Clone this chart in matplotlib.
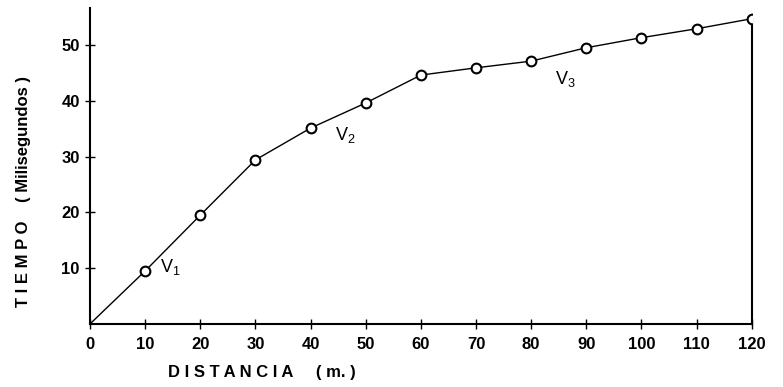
import matplotlib.pyplot as plt

# distance (m) and travel time (ms)
distancia = [0, 10, 20, 30, 40, 50, 60, 70, 80, 90, 100, 110, 120]
tiempo = [0, 9.5, 19.5, 29.4, 35.1, 39.6, 44.6, 45.9, 47.1, 49.5, 51.3, 52.9, 54.7]

x_ticks = [0, 10, 20, 30, 40, 50, 60, 70, 80, 90, 100, 110, 120]
y_ticks = [10, 20, 30, 40, 50]

# velocity labels and where they sit
etiquetas = ["V$_1$", "V$_2$", "V$_3$"]
etiq_x = [14.6, 46.3, 86.2]
etiq_y = [10.2, 33.8, 43.9]

plt.rcParams['font.family'] = ['Liberation Sans', 'DejaVu Sans']
plt.rcParams['mathtext.default'] = 'regular'

fig = plt.figure(figsize=(7.83, 3.87), dpi=100)
ax = fig.add_axes([0.115, 0.163, 0.845, 0.816])

ax.plot(distancia, tiempo, color="black", lw=1.0, zorder=2)
ax.plot(distancia[1:], tiempo[1:], "o", ms=7, mfc="white", mec="black",
        mew=1.5, zorder=3)

for t, tx, ty in zip(etiquetas, etiq_x, etiq_y):
    ax.text(tx, ty, t, fontsize=13, ha="center", va="center")

ax.set_xlim(0, 120)
ax.set_ylim(0, 56.6)
ax.set_xticks(x_ticks)
ax.set_xticklabels([str(v) for v in x_ticks], fontsize=12, fontweight="bold")
ax.set_yticks(y_ticks)
ax.set_yticklabels([str(v) for v in y_ticks], fontsize=12, fontweight="bold")
ax.tick_params(axis="both", direction="inout", length=7, width=1.0, pad=4)
ax.tick_params(axis="x", pad=6)

ax.spines["top"].set_visible(False)
ax.spines["right"].set_bounds(0, tiempo[-1])
for s in ["left", "bottom", "right"]:
    ax.spines[s].set_linewidth(1.5)

ax.set_xlabel("D I S T A N C I A     ( m. )", fontsize=12, fontweight="bold",
              ha="center", va="center")
ax.xaxis.set_label_coords(0.26, -0.155)
ax.set_ylabel("T I E M P O    ( Milisegundos )", fontsize=12, fontweight="bold",
              ha="center", va="center")
ax.yaxis.set_label_coords(-0.1, 0.42)

fig.savefig("out.png", dpi=100)
